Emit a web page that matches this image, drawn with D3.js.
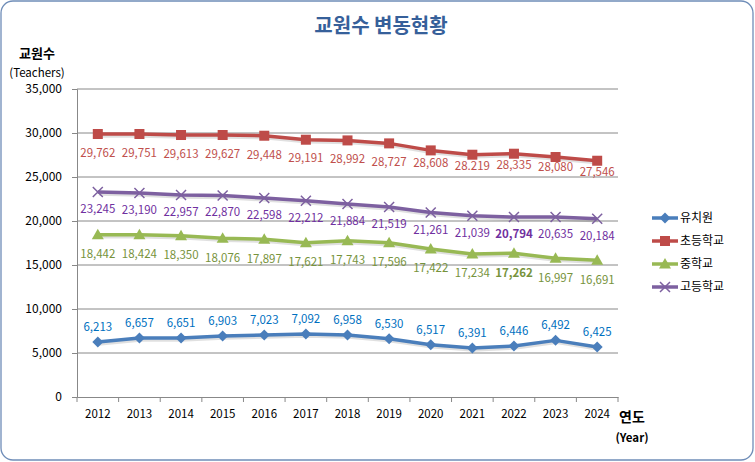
<!DOCTYPE html>
<html><head><meta charset="utf-8">
<script src="https://cdn.jsdelivr.net/npm/d3@7"></script>
<style>
html,body{margin:0;padding:0;background:#fff;}
svg{display:block;font-family:"Noto Sans CJK KR","Noto Sans",sans-serif;}
</style></head>
<body><svg id="c" width="755" height="462"></svg>
<script>
const years = ["2012","2013","2014","2015","2016","2017","2018","2019","2020","2021","2022","2023","2024"];
const yTicks = [0,5000,10000,15000,20000,25000,30000,35000];
const seriesNames = ["유치원","초등학교","중학교","고등학교"];
const kinder = [6253,6709,6709,6936,7050,7164,7050,6629,5945,5570,5797,6435,5683];
const elem   = [29886,29886,29772,29772,29690,29237,29157,28820,28023,27532,27646,27270,26848];
const middle = [18451,18451,18337,18041,17927,17540,17768,17540,16822,16253,16333,15763,15535];
const high   = [23291,23177,22950,22905,22608,22301,21924,21583,20968,20592,20444,20444,20250];
// printed data labels
const kinderLabels = ["6,213","6,657","6,651","6,903","7,023","7,092","6,958","6,530","6,517","6,391","6,446","6,492","6,425"];
const elemLabels   = ["29,762","29,751","29,613","29,627","29,448","29,191","28,992","28,727","28,608","28.219","28,335","28,080","27,546"];
const middleLabels = ["18,442","18,424","18,350","18,076","17,897","17,621","17,743","17,596","17,422","17,234","17,262","16,997","16,691"];
const highLabels   = ["23,245","23,190","22,957","22,870","22,598","22,212","21,884","21,519","21,261","21,039","20,794","20,635","20,184"];
const boldLabels = ["17,262","20,794"];

const svg = d3.select("#c");
const W = 755, H = 462;
const L = 77, R = 618, T = 89, B = 397;

svg.append("rect").attr("x",1).attr("y",1).attr("width",W-3).attr("height",H-3)
  .attr("rx",12).attr("ry",12).attr("fill","#fff").attr("stroke","#6F8DB8").attr("stroke-width",1.3);

const x = d3.scaleBand().domain(years).range([L,R]).padding(0);
const y = d3.scaleLinear().domain([0,35000]).range([B,T]);
const cx = d => x(d) + x.bandwidth()/2;
const parseLabel = s => +s.replace(/[.,]/g,"");

// gridlines
svg.append("g").selectAll("line").data(yTicks.filter(v=>v>0)).join("line")
  .attr("x1",L).attr("x2",R).attr("y1",d=>y(d)).attr("y2",d=>y(d))
  .attr("stroke","#888").attr("stroke-width",1);

// y axis
const ya = svg.append("g").attr("transform",`translate(${L},0)`)
  .call(d3.axisLeft(y).tickValues(yTicks).tickFormat(d3.format(",")).tickSize(5).tickPadding(10));
ya.select(".domain").attr("stroke","#888");
ya.selectAll(".tick line").attr("stroke","#888");
ya.selectAll("text").attr("font-size",12).attr("fill","#000").attr("font-family","'Noto Sans CJK KR','Noto Sans',sans-serif");

// x axis
const xa = svg.append("g").attr("transform",`translate(0,${B})`)
  .call(d3.axisBottom(x).tickSize(0).tickPadding(13));
xa.select(".domain").attr("stroke","#888");
xa.selectAll("text").attr("font-size",11.5).attr("fill","#000").attr("font-family","'Noto Sans CJK KR','Noto Sans',sans-serif");
svg.append("g").selectAll("line").data(years.concat(["end"])).join("line")
  .attr("x1",(d,i)=>L+i*x.bandwidth()).attr("x2",(d,i)=>L+i*x.bandwidth())
  .attr("y1",B).attr("y2",B+5).attr("stroke","#888");

// titles
svg.append("text").attr("x",381).attr("y",33).attr("text-anchor","middle")
  .attr("font-size",20).attr("font-weight","bold").attr("fill","#36609A").text("교원수 변동현황");
svg.append("text").attr("x",37).attr("y",58).attr("text-anchor","middle")
  .attr("font-size",13).attr("font-weight","bold").text("교원수");
svg.append("text").attr("x",37).attr("y",77).attr("text-anchor","middle")
  .attr("font-size",11.5).text("(Teachers)");
svg.append("text").attr("x",632).attr("y",422).attr("text-anchor","middle")
  .attr("font-size",14).attr("font-weight","bold").text("연도");
svg.append("text").attr("x",632).attr("y",442).attr("text-anchor","middle")
  .attr("font-size",11.5).attr("font-weight","bold").text("(Year)");

const series = [
  {name:seriesNames[0], vals:kinder, labels:kinderLabels, color:"#4A7EBB", lab:"#0070C0", marker:"diamond", off:-15, byLabel:false},
  {name:seriesNames[1], vals:elem,   labels:elemLabels,   color:"#BE4B48", lab:"#C0504D", marker:"square",  off:17.5, byLabel:true},
  {name:seriesNames[2], vals:middle, labels:middleLabels, color:"#98B954", lab:"#77933C", marker:"triangle",off:19.5, byLabel:false},
  {name:seriesNames[3], vals:high,   labels:highLabels,   color:"#7D60A0", lab:"#7030A0", marker:"x",       off:17, byLabel:false}
];

function drawMarker(g, type, color, px, py){
  if(type==="diamond"){
    g.append("path").attr("d",`M${px},${py-5.5}L${px+5.5},${py}L${px},${py+5.5}L${px-5.5},${py}Z`).attr("fill",color);
  } else if(type==="square"){
    g.append("rect").attr("x",px-5).attr("y",py-5).attr("width",10).attr("height",10).attr("fill",color);
  } else if(type==="triangle"){
    g.append("path").attr("d",`M${px},${py-6}L${px+6},${py+4.5}L${px-6},${py+4.5}Z`).attr("fill",color);
  } else {
    g.append("path").attr("d",`M${px-5},${py-5}L${px+5},${py+5}M${px+5},${py-5}L${px-5},${py+5}`)
      .attr("stroke",color).attr("stroke-width",1.5);
  }
}

const line = d3.line().x((d,i)=>cx(years[i])).y(d=>y(d));
series.forEach(s=>{
  const g = svg.append("g");
  g.append("path").datum(s.vals).attr("d",line).attr("fill","none")
    .attr("stroke","#000").attr("stroke-opacity",0.12).attr("stroke-width",3.5)
    .attr("transform","translate(1,2)");
  g.append("path").datum(s.vals).attr("d",line).attr("fill","none")
    .attr("stroke",s.color).attr("stroke-width",3.5).attr("stroke-linejoin","round");
  s.vals.forEach((v,i)=>drawMarker(g,s.marker,s.color,cx(years[i]),y(v)));
  g.selectAll("text.lbl").data(s.labels).join("text").attr("class","lbl")
    .attr("x",(d,i)=>cx(years[i]))
    .attr("y",(d,i)=>(s.byLabel ? y(parseLabel(d)) : y(s.vals[i])) + s.off)
    .attr("dy","0.35em").attr("text-anchor","middle").attr("font-size",11.5)
    .attr("font-weight",d=>boldLabels.includes(d)?"bold":"normal")
    .attr("fill",s.lab).text(d=>d);
});

// legend
const lg = svg.append("g");
series.forEach((s,i)=>{
  const ly = 218 + i*23;
  lg.append("line").attr("x1",652).attr("x2",678).attr("y1",ly).attr("y2",ly)
    .attr("stroke",s.color).attr("stroke-width",3.5);
  drawMarker(lg,s.marker,s.color,665,ly);
  lg.append("text").attr("x",680).attr("y",ly).attr("dy","0.35em")
    .attr("font-size",12).attr("fill","#000").text(s.name);
});
</script></body></html>
